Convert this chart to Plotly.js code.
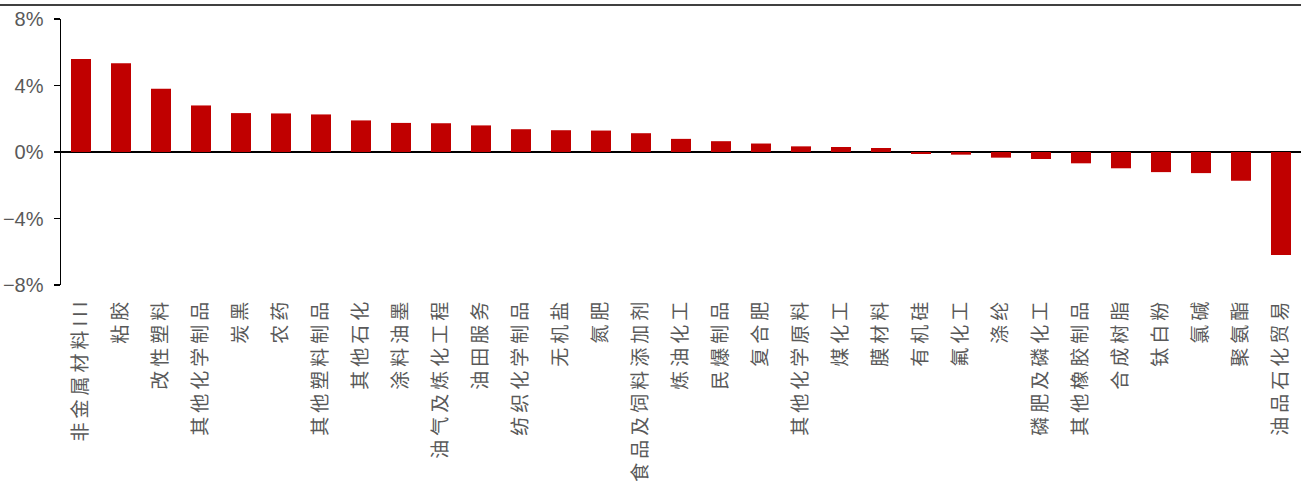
<!DOCTYPE html>
<html>
<head>
<meta charset="utf-8">
<script src="https://cdn.plot.ly/plotly-3.0.1.min.js"></script>
<style>
  html, body { margin: 0; padding: 0; background: #fff; }
  #chart { width: 1312px; height: 486px; }
  .xtick text { letter-spacing: 4px; }
</style>
</head>
<body>
<div id="chart"></div>
<script>
// 子行业涨跌幅（%）
const industries = [
  '非金属材料III', '粘胶', '改性塑料', '其他化学制品', '炭黑', '农药', '其他塑料制品',
  '其他石化', '涂料油墨', '油气及炼化工程', '油田服务', '纺织化学制品', '无机盐', '氮肥',
  '食品及饲料添加剂', '炼油化工', '民爆制品', '复合肥', '其他化学原料', '煤化工', '膜材料',
  '有机硅', '氟化工', '涤纶', '磷肥及磷化工', '其他橡胶制品', '合成树脂', '钛白粉', '氯碱',
  '聚氨酯', '油品石化贸易'
];
const changePct = [
  5.60, 5.34, 3.81, 2.80, 2.34, 2.32, 2.26,
  1.90, 1.75, 1.73, 1.60, 1.37, 1.31, 1.29,
  1.13, 0.79, 0.65, 0.51, 0.34, 0.30, 0.24,
  -0.12, -0.16, -0.34, -0.42, -0.68, -0.98, -1.21, -1.27,
  -1.73, -6.20
];
const yTickVals = [-8, -4, 0, 4, 8];
const yTickText = ['\u22128%', '\u22124%', '0%', '4%', '8%'];

const trace = {
  type: 'bar',
  x: industries,
  y: changePct,
  marker: { color: '#C00000' },
  hoverinfo: 'x+y'
};

const layout = {
  width: 1312,
  height: 486,
  margin: { l: 61, r: 11, t: 19, b: 201 },
  paper_bgcolor: '#ffffff',
  plot_bgcolor: '#ffffff',
  showlegend: false,
  bargap: 0.5,
  xaxis: {
    type: 'category',
    range: [-0.5, industries.length - 0.5],
    showline: false,
    showgrid: false,
    ticks: '',
    tickangle: -90,
    ticklabelstandoff: 8,
    tickfont: { family: '"Noto Sans CJK SC", sans-serif', size: 19, color: '#595959' }
  },
  yaxis: {
    range: [-8, 8],
    tickmode: 'array',
    tickvals: yTickVals,
    ticktext: yTickText,
    showgrid: false,
    zeroline: true,
    zerolinecolor: '#000000',
    zerolinewidth: 2,
    showline: true,
    linecolor: '#000000',
    linewidth: 1.5,
    ticks: 'outside',
    ticklen: 6,
    tickwidth: 1.5,
    tickcolor: '#000000',
    ticklabelstandoff: 6,
    tickfont: { family: '"Liberation Sans", Arial, sans-serif', size: 20, color: '#595959' }
  },
  shapes: [{
    type: 'line', xref: 'paper', yref: 'paper',
    x0: -61 / 1240, x1: 1.0, y0: 1 + 14 / 266, y1: 1 + 14 / 266,
    line: { color: '#000000', width: 1.5 }
  }]
};

Plotly.newPlot('chart', [trace], layout, { displayModeBar: false, staticPlot: true });
</script>
</body>
</html>
